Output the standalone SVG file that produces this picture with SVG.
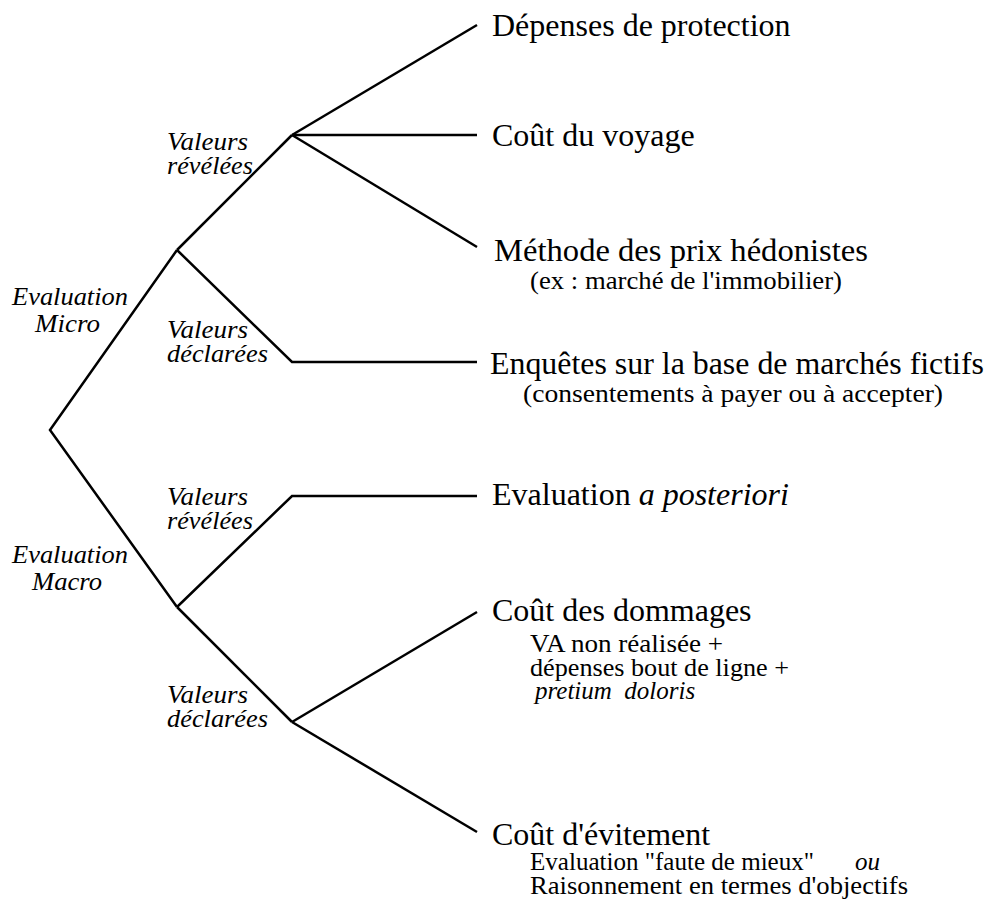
<svg xmlns="http://www.w3.org/2000/svg" width="994" height="909" viewBox="0 0 994 909">
<style>
.ln{fill:none;stroke:#000;stroke-width:2.5;stroke-linejoin:miter;stroke-linecap:butt}
.main{font-family:"Liberation Serif","Times New Roman",serif;font-size:32px;fill:#000}
.sub{font-family:"Liberation Serif","Times New Roman",serif;font-size:25px;fill:#000}
.lab{font-family:"Liberation Serif","Times New Roman",serif;font-size:25px;font-style:italic;fill:#000}
.it{font-style:italic}
</style>
<rect width="994" height="909" fill="#fff"/>
<g id="connectors">
<polyline class="ln" points="177,250 50,430 177,607"/>
<line class="ln" x1="177" y1="250" x2="292" y2="135"/>
<line class="ln" x1="292" y1="135" x2="477" y2="25"/>
<line class="ln" x1="292" y1="135" x2="477" y2="135"/>
<line class="ln" x1="292" y1="135" x2="477" y2="247"/>
<polyline class="ln" points="177,250 292,362 477,362"/>
<polyline class="ln" points="177,607 292,496 477,496"/>
<line class="ln" x1="177" y1="607" x2="292" y2="722"/>
<line class="ln" x1="292" y1="722" x2="477" y2="612"/>
<line class="ln" x1="292" y1="722" x2="477" y2="832"/>
</g>
<g id="eval-micro"><text class="lab" x="12" y="305" textLength="116" lengthAdjust="spacingAndGlyphs">Evaluation</text><text class="lab" x="35" y="332" textLength="65" lengthAdjust="spacingAndGlyphs">Micro</text></g>
<g id="eval-macro"><text class="lab" x="12" y="563" textLength="116" lengthAdjust="spacingAndGlyphs">Evaluation</text><text class="lab" x="32" y="590" textLength="70" lengthAdjust="spacingAndGlyphs">Macro</text></g>
<g id="micro-revelees"><text class="lab" x="167" y="150" textLength="81" lengthAdjust="spacingAndGlyphs">Valeurs</text><text class="lab" x="167" y="174" textLength="86" lengthAdjust="spacingAndGlyphs">révélées</text></g>
<g id="micro-declarees"><text class="lab" x="167" y="338" textLength="81" lengthAdjust="spacingAndGlyphs">Valeurs</text><text class="lab" x="167" y="362" textLength="101" lengthAdjust="spacingAndGlyphs">déclarées</text></g>
<g id="macro-revelees"><text class="lab" x="167" y="505" textLength="81" lengthAdjust="spacingAndGlyphs">Valeurs</text><text class="lab" x="167" y="529" textLength="86" lengthAdjust="spacingAndGlyphs">révélées</text></g>
<g id="macro-declarees"><text class="lab" x="167" y="703" textLength="81" lengthAdjust="spacingAndGlyphs">Valeurs</text><text class="lab" x="167" y="727" textLength="101" lengthAdjust="spacingAndGlyphs">déclarées</text></g>
<g id="depenses-protection"><text class="main" x="492" y="36">Dépenses de protection</text></g>
<g id="cout-voyage"><text class="main" x="492" y="146">Coût du voyage</text></g>
<g id="prix-hedonistes"><text class="main" x="494" y="261" textLength="374" lengthAdjust="spacingAndGlyphs">Méthode des prix hédonistes</text><text class="sub" x="530" y="289" textLength="312" lengthAdjust="spacingAndGlyphs">(ex : marché de l'immobilier)</text></g>
<g id="enquetes"><text class="main" x="490" y="374" textLength="494" lengthAdjust="spacingAndGlyphs">Enquêtes sur la base de marchés fictifs</text><text class="sub" x="523" y="402" textLength="420" lengthAdjust="spacingAndGlyphs">(consentements à payer ou à accepter)</text></g>
<g id="eval-posteriori"><text class="main" x="492" y="505">Evaluation <tspan class="it">a posteriori</tspan></text></g>
<g id="cout-dommages"><text class="main" x="492" y="621">Coût des dommages</text><text class="sub" x="530" y="652" textLength="193" lengthAdjust="spacingAndGlyphs">VA non réalisée +</text><text class="sub" x="530" y="676" textLength="259" lengthAdjust="spacingAndGlyphs">dépenses bout de ligne +</text><text class="sub it" x="535" y="699" xml:space="preserve">pretium  doloris</text></g>
<g id="cout-evitement"><text class="main" x="492" y="845">Coût d'évitement</text><text class="sub" x="530" y="870" textLength="284" lengthAdjust="spacingAndGlyphs">Evaluation "faute de mieux"</text><text class="sub it" x="855" y="870">ou</text><text class="sub" x="530" y="894" textLength="378" lengthAdjust="spacingAndGlyphs">Raisonnement en termes d'objectifs</text></g>
</svg>
